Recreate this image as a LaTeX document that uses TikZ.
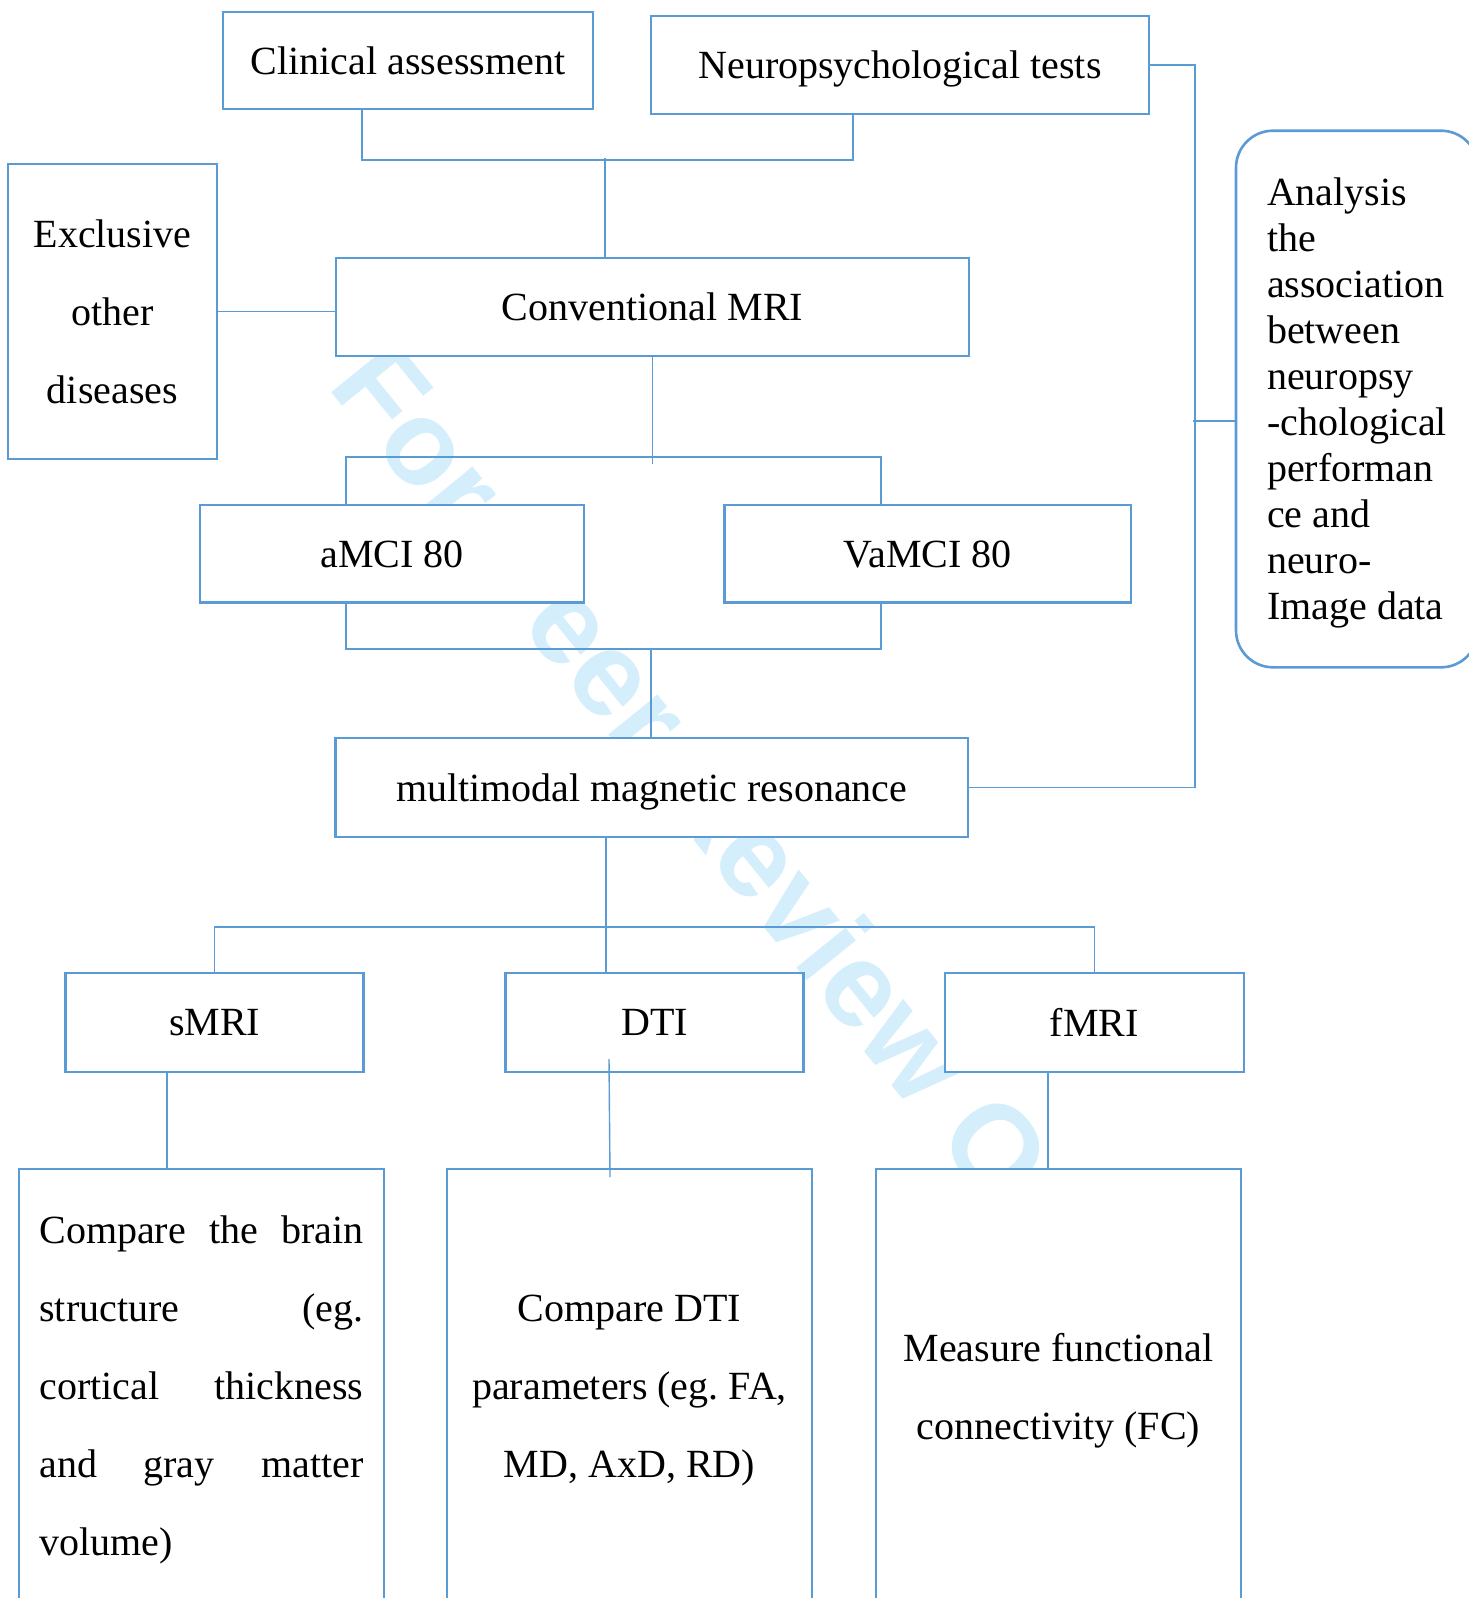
\documentclass[tikz,border=0pt]{standalone}
\usepackage{fontspec}
\setmainfont{Liberation Serif}
\newfontfamily\markfont{Liberation Sans}
\definecolor{boxblue}{RGB}{91,155,213}
\definecolor{markblue}{RGB}{212,238,251}

\begin{document}
\begin{tikzpicture}[x=1pt, y=-1pt,
    box/.style={draw=boxblue, line width=2.6pt, fill=white, inner sep=0pt, align=center,
        text depth=0pt, font=\fontsize{40}{46}\selectfont},
    link/.style={draw=boxblue, line width=1.4pt}]
    % Page
    \clip (0,0) rectangle (1469,1598);
    % Watermark
    \node [text=markblue, font=\markfont\bfseries\fontsize{120}{120}\selectfont,
        rotate=-51, anchor=base west, inner sep=0pt] (mark) at (326,386) {For Peer Review Only};

    % Boxes
    \node [box, minimum width=370pt, minimum height=97pt] (clin) at (408,60.5) {Clinical assessment};
    \node [box, minimum width=498pt, minimum height=98pt] (neuro) at (900,65) {Neuropsychological tests};
    \node [box, minimum width=209pt, minimum height=295pt, font=\fontsize{40}{78}\selectfont]
        (excl) at (112.5,311.5) {Exclusive\\other\\diseases};
    \node [box, minimum width=633pt, minimum height=98pt] (conv) at (652.5,307) {Conventional MRI};
    \node [box, minimum width=384pt, minimum height=97.5pt] (amci) at (392,553.75) {aMCI 80};
    \node [box, minimum width=406.5pt, minimum height=97.5pt] (vamci) at (927.75,553.75) {VaMCI 80};
    \node [box, minimum width=632.5pt, minimum height=99pt] (multi) at (651.75,787.5) {multimodal magnetic resonance};
    \node [box, rounded corners=37pt, minimum width=242pt, minimum height=536.6pt, align=left]
        (ana) at (1357,399) {Analysis\\the\\association\\between\\neuropsy\\-chological\\performan\\ce and\\neuro-\\Image data};
    \node [box, minimum width=298pt, minimum height=99pt] (smri) at (214.6,1022.5) {sMRI};
    \node [box, minimum width=298pt, minimum height=99pt] (dti) at (654.6,1022.5) {DTI};
    \node [box, minimum width=299pt, minimum height=99pt] (fmri) at (1094.3,1022.5) {fMRI};
    \node [box, minimum width=365pt, minimum height=434pt, font=\fontsize{40}{78}\selectfont]
        (cmpa) at (201.4,1386) {\makebox[324pt][s]{Compare the brain}\\\makebox[324pt][s]{structure (eg.}\\
        \makebox[324pt][s]{cortical thickness}\\\makebox[324pt][s]{and gray matter}\\\makebox[324pt][l]{volume)}};
    \node [box, minimum width=365pt, minimum height=434pt, font=\fontsize{40}{78}\selectfont]
        (cmpb) at (629.5,1386) {Compare DTI\\parameters (eg.\ FA,\\MD, AxD, RD)};
    \node [box, minimum width=365pt, minimum height=434pt, font=\fontsize{40}{78}\selectfont]
        (cmpc) at (1058.5,1386) {Measure functional\\connectivity (FC)};

    % Connectors
    \coordinate (clinx) at (362,160);
    \coordinate (neurox) at (853,160);
    \coordinate (topj) at (605,158);
    \draw [link] (clin.south -| clinx) -- (clinx) -- (neurox) -- (neuro.south -| neurox);
    \draw [link] (topj) -- (conv.north -| topj);
    \draw [link] (excl.east) -- (excl.east -| conv.west);
    \coordinate (grpl) at (346,457);
    \coordinate (grpr) at (881,457);
    \coordinate (convj) at (652.5,464);
    \draw [link] (conv.south) -- (convj);
    \draw [link] (amci.north -| grpl) -- (grpl) -- (grpr) -- (vamci.north -| grpr);
    \coordinate (botl) at (346,649);
    \coordinate (botr) at (881,649);
    \coordinate (botj) at (651,649);
    \draw [link] (amci.south -| botl) -- (botl) -- (botr) -- (vamci.south -| botr);
    \draw [link] (botj) -- (multi.north -| botj);
    \coordinate (side) at (1195,65);
    \draw [link] (multi.east) -- (multi.east -| side) -- (side) -- (neuro.east);
    \coordinate (stub) at (1193,421);
    \draw [link] (stub) -- (stub -| ana.west);
    \coordinate (modj) at (606,927);
    \draw [link] (multi.south -| modj) -- (dti.north -| modj);
    \draw [link] (smri.north) -- (smri.north |- modj) -- (fmri.north |- modj) -- (fmri.north);
    \coordinate (smrix) at (167,0);
    \draw [link] (smri.south -| smrix) -- (cmpa.north -| smrix);
    \coordinate (dtia) at (609,1059);
    \coordinate (dtib) at (610,1177);
    \draw [link] (dtia) -- (dtib);
    \coordinate (fmrix) at (1048,0);
    \draw [link] (fmri.south -| fmrix) -- (cmpc.north -| fmrix);
\end{tikzpicture}
\end{document}
